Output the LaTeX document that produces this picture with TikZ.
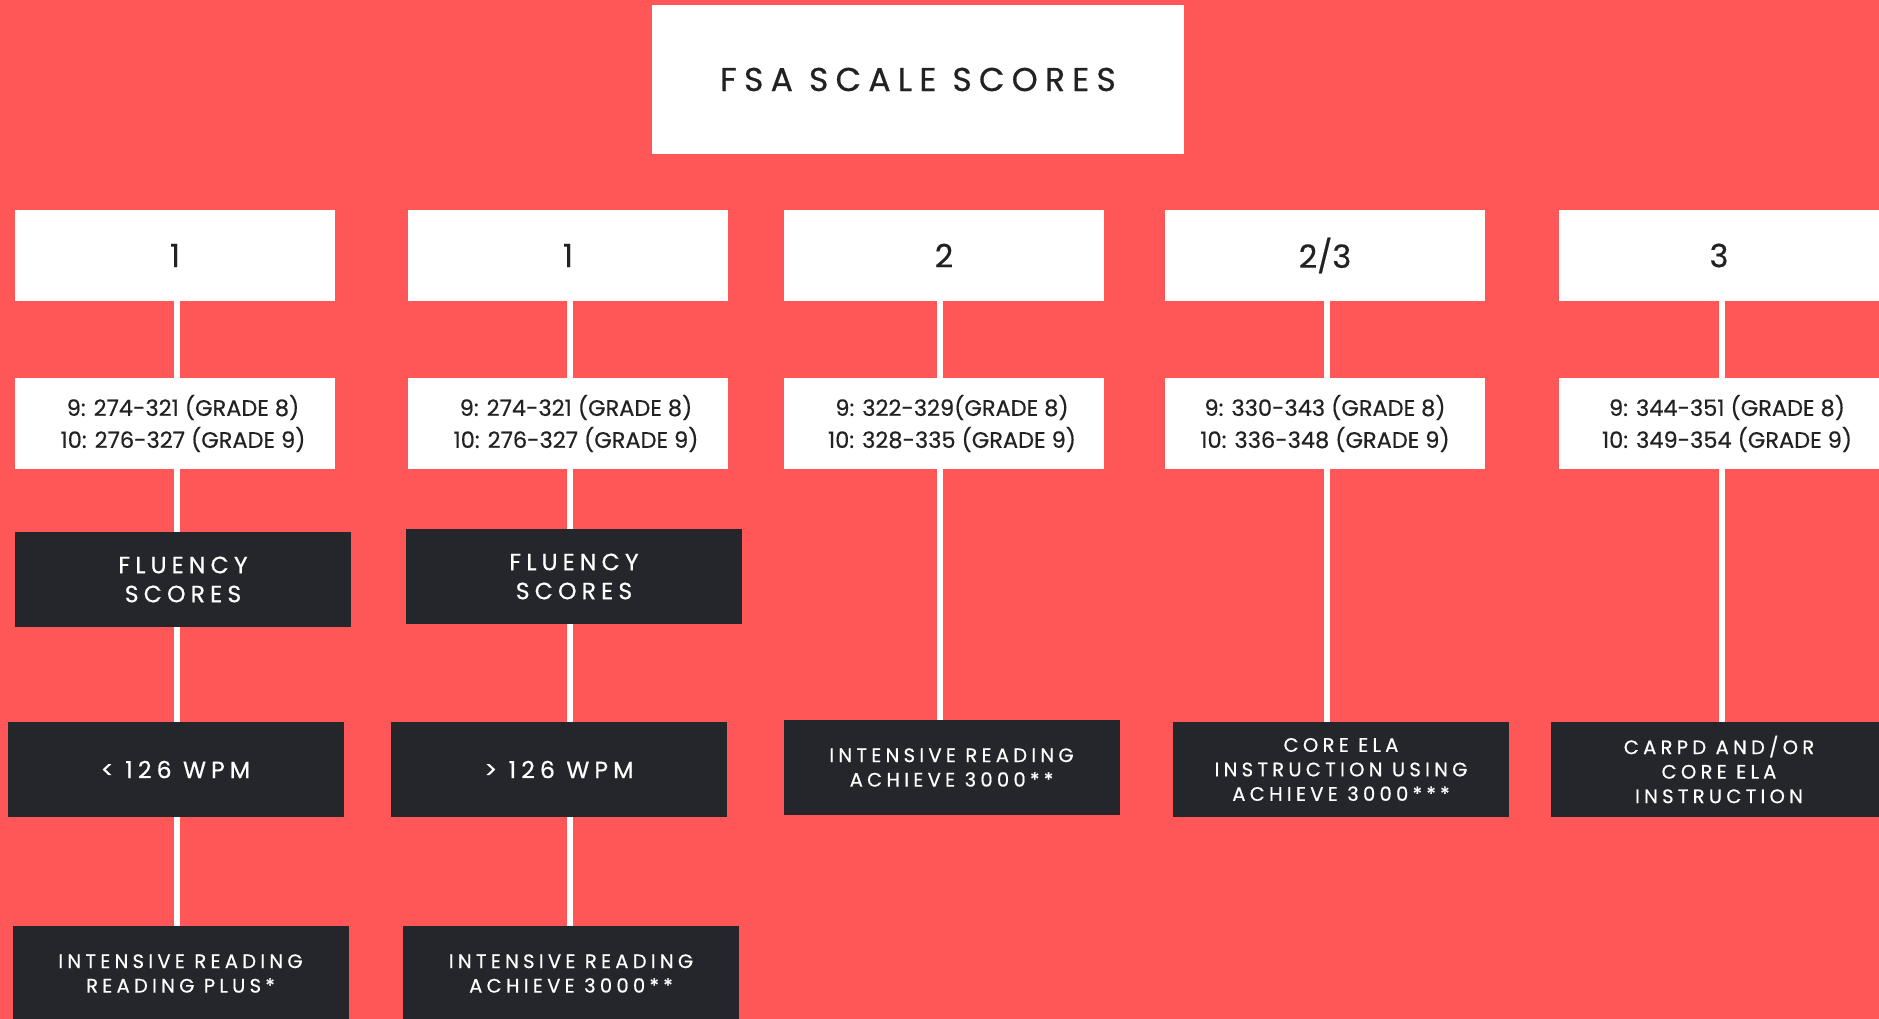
\documentclass[tikz,border=0pt]{standalone}
\usepackage{fontspec}
\setmainfont{Poppins}
\newfontfamily\titlefont[LetterSpace=22, FakeBold=0.6]{Poppins}
\newfontfamily\darkfont[LetterSpace=22, FakeBold=0.6]{Poppins}
\newfontfamily\numfont[FakeBold=0.5]{Poppins}
\definecolor{bgred}{HTML}{FF5757}
\definecolor{boxdark}{HTML}{25262B}
\definecolor{inkdark}{HTML}{222222}
\tikzset{
  lightbox/.style={fill=white, text=inkdark, minimum width=320pt, minimum height=91pt,
    inner sep=0pt, align=center},
  darkbox/.style={fill=boxdark, text=white, minimum width=336pt, minimum height=95pt,
    inner sep=0pt, align=center},
  link/.style={draw=white, line width=6pt},
  grade/.style={lightbox, font=\numfont\fontsize{22.5}{32}\selectfont},
  level/.style={lightbox, font=\numfont\fontsize{32}{38}\selectfont},
  bigtag/.style={darkbox, font=\darkfont\fontsize{23.5}{29}\selectfont},
  smalltag/.style={darkbox, font=\darkfont\fontsize{19.5}{24.5}\selectfont},
}
% right-shifted centred line, used in the score range boxes
\newcommand{\rline}[1]{\hspace*{16pt}#1}
\begin{document}
\begin{tikzpicture}[x=1pt, y=-1pt]
  \fill[bgred] (0,0) rectangle (1879,1019);
  \useasboundingbox (0,0) rectangle (1879,1019);
  \clip (0,0) rectangle (1879,1019);

  % heading
  \node[fill=white, text=inkdark, minimum width=532pt, minimum height=149pt, inner sep=0pt,
        font=\titlefont\fontsize{33}{38}\selectfont] (title) at (918,79.5) {FSA SCALE SCORES};

  % performance levels
  \node[level] (l1) at (175,255.5) {1};
  \node[level] (l2) at (568,255.5) {1};
  \node[level] (l3) at (944,255.5) {2};
  \node[level] (l4) at (1325,255.5) {2/3};
  \node[level] (l5) at (1719,255.5) {3};

  % scale score ranges
  \node[grade] (g1) at (175,423.5) {\rline{9: 274-321 (GRADE 8)}\\\rline{10: 276-327 (GRADE 9)}};
  \node[grade] (g2) at (568,423.5) {\rline{9: 274-321 (GRADE 8)}\\\rline{10: 276-327 (GRADE 9)}};
  \node[grade] (g3) at (944,423.5) {\rline{9: 322-329(GRADE 8)}\\\rline{10: 328-335 (GRADE 9)}};
  \node[grade] (g4) at (1325,423.5) {9: 330-343 (GRADE 8)\\10: 336-348 (GRADE 9)};
  \node[grade] (g5) at (1719,423.5) {\rline{9: 344-351 (GRADE 8)}\\\rline{10: 349-354 (GRADE 9)}};

  % fluency checks
  \node[bigtag] (f1) at (183,579.5) {FLUENCY\\SCORES};
  \node[bigtag] (f2) at (574,576.5) {FLUENCY\\SCORES};

  % words per minute and placements
  \node[bigtag] (w1) at (175.5,769.5) {< 126 WPM};
  \node[bigtag] (w2) at (559,769.5) {> 126 WPM};
  \node[smalltag] (p3) at (951.5,767.5) {INTENSIVE READING\\ACHIEVE 3000**};
  \node[smalltag] (p4) at (1341,769.5) {CORE ELA\\INSTRUCTION USING\\ACHIEVE 3000***};
  \node[smalltag] (p5) at (1719,769.5) {CARPD AND/OR\\CORE ELA\\INSTRUCTION};
  \node[smalltag] (p1) at (180.5,973.5) {INTENSIVE READING\\READING PLUS*};
  \node[smalltag] (p2) at (571,973.5) {INTENSIVE READING\\ACHIEVE 3000**};

  % trunk positions of the five columns
  \coordinate (t1) at ([xshift=2pt]l1.south);
  \coordinate (t2) at ([xshift=2pt]l2.south);
  \coordinate (t3) at ([xshift=-4pt]l3.south);
  \coordinate (t4) at ([xshift=2pt]l4.south);
  \coordinate (t5) at ([xshift=3pt]l5.south);

  % connectors
  \foreach \c in {1,...,5} {
    \draw[link] (t\c) -- (t\c |- g\c.north);
  }
  \draw[link] (t1 |- g1.south) -- (t1 |- f1.north);
  \draw[link] (t1 |- f1.south) -- (t1 |- w1.north);
  \draw[link] (t1 |- w1.south) -- (t1 |- p1.north);
  \draw[link] (t2 |- g2.south) -- (t2 |- f2.north);
  \draw[link] (t2 |- f2.south) -- (t2 |- w2.north);
  \draw[link] (t2 |- w2.south) -- (t2 |- p2.north);
  \draw[link] (t3 |- g3.south) -- (t3 |- p3.north);
  \draw[link] (t4 |- g4.south) -- (t4 |- p4.north);
  \draw[link] (t5 |- g5.south) -- (t5 |- p5.north);
\end{tikzpicture}
\end{document}
